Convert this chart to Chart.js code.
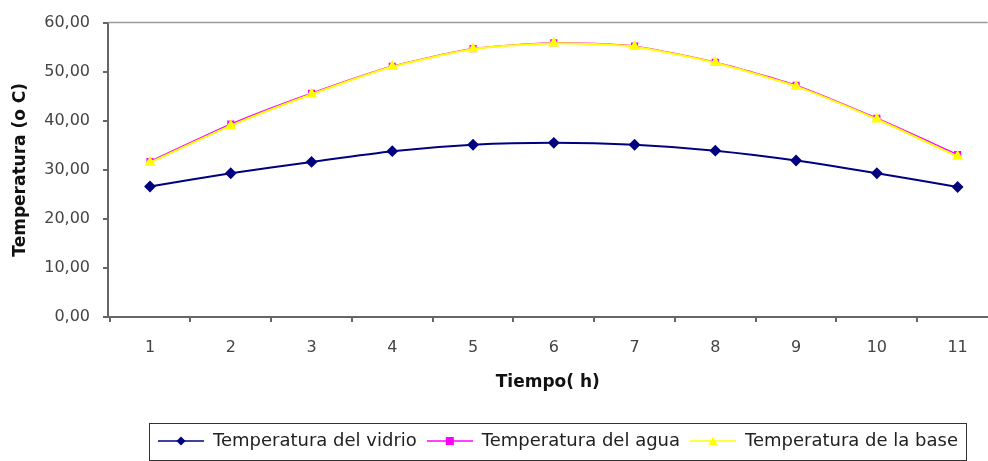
<!DOCTYPE html>
<html>
<head>
<meta charset="utf-8">
<script src="https://cdn.jsdelivr.net/npm/chart.js@4/dist/chart.umd.min.js"></script>
<style>
  body { margin: 0; background: #fff; overflow: hidden; }
  #wrap { width: 994px; height: 461px; position: relative; }
</style>
</head>
<body>
<div id="wrap"><canvas id="myChart"></canvas></div>
<script>
// datos
var horas = [1, 2, 3, 4, 5, 6, 7, 8, 9, 10, 11];
var tempVidrio = [26.6, 29.3, 31.6, 33.8, 35.1, 35.5, 35.1, 33.9, 31.9, 29.3, 26.5];
var tempAgua = [31.7, 39.3, 45.6, 51.1, 54.7, 55.9, 55.2, 51.9, 47.2, 40.5, 33.1];
var tempBase = [31.5, 39.0, 45.4, 51.0, 54.6, 55.8, 55.1, 51.8, 47.0, 40.3, 32.7];
var nombres = ['Temperatura del vidrio', 'Temperatura del agua', 'Temperatura de la base'];
var colores = ['#000080', '#ff00ff', '#ffff00'];

function puntos(serie) {
    return horas.map(function (h, i) { return { x: h, y: serie[i] }; });
}

// simbolo de leyenda: linea con marcador
function simbolo(color, tipo) {
    var c = document.createElement('canvas');
    c.width = 46; c.height = 14;
    var g = c.getContext('2d');
    g.strokeStyle = color; g.lineWidth = 1.5;
    g.beginPath(); g.moveTo(0, 7); g.lineTo(46, 7); g.stroke();
    g.fillStyle = color;
    g.beginPath();
    if (tipo === 'rombo') {
        g.moveTo(23, 2.5); g.lineTo(27.5, 7); g.lineTo(23, 11.5); g.lineTo(18.5, 7);
    } else if (tipo === 'cuadro') {
        g.rect(19, 3, 8, 8);
    } else {
        g.moveTo(23, 2.5); g.lineTo(27.5, 11); g.lineTo(18.5, 11);
    }
    g.closePath(); g.fill();
    return c;
}
var simbolos = [simbolo(colores[0], 'rombo'), simbolo(colores[1], 'cuadro'), simbolo(colores[2], 'triangulo')];

var marco = {
    id: 'marco',
    afterLayout: function (chart) {
        // la leyenda del original esta corrida a la derecha
        chart.legend.left += 61;
        chart.legend.right += 61;
    },
    afterDraw: function (chart) {
        var ctx = chart.ctx, a = chart.chartArea;
        ctx.save();
        ctx.strokeStyle = '#9a9a9a';
        ctx.lineWidth = 1.5;
        ctx.beginPath(); ctx.moveTo(a.left, a.top); ctx.lineTo(a.right, a.top); ctx.stroke();
        var hb = chart.legend.legendHitBoxes;
        if (hb && hb.length) {
            var l = Math.min.apply(null, hb.map(function (b) { return b.left; }));
            var r = Math.max.apply(null, hb.map(function (b) { return b.left + b.width; }));
            ctx.strokeStyle = '#333';
            ctx.lineWidth = 1;
            ctx.strokeRect(Math.round(l - 9) + 0.5, Math.round(hb[0].top - 9.5) + 0.5, Math.round(r - l + 17), Math.round(hb[0].height + 19));
        }
        ctx.restore();
    }
};

var ctx = document.getElementById('myChart').getContext('2d');
var myChart = new Chart(ctx, {
    type: 'line',
    data: {
        datasets: [
            {
                label: nombres[0],
                data: puntos(tempVidrio),
                borderColor: colores[0],
                backgroundColor: colores[0],
                borderWidth: 2,
                pointStyle: 'rectRot',
                pointRadius: 4.5,
                tension: 0.2,
                order: 1
            },
            {
                label: nombres[1],
                data: puntos(tempAgua),
                borderColor: colores[1],
                backgroundColor: colores[1],
                borderWidth: 1.5,
                pointStyle: 'rect',
                pointRadius: 4,
                tension: 0.2,
                order: 2
            },
            {
                label: nombres[2],
                data: puntos(tempBase),
                borderColor: colores[2],
                backgroundColor: colores[2],
                borderWidth: 2,
                pointStyle: 'triangle',
                pointRadius: 4.5,
                tension: 0.2,
                order: 0 // amarillo encima
            }
        ]
    },
    options: {
        responsive: true,
        maintainAspectRatio: false,
        animation: false,
        layout: {
            padding: { top: 17, left: 0, right: 0, bottom: 1 }
        },
        scales: {
            x: {
                type: 'linear',
                min: 0.48,
                max: 11.37,
                afterBuildTicks: function (scale) {
                    var t = [];
                    horas.forEach(function (h) { t.push({ value: h - 0.5 }); t.push({ value: h }); });
                    scale.ticks = t;
                },
                afterFit: function (scale) {
                    scale.height = 105;
                    scale.paddingLeft = 0;
                    scale.paddingRight = 0;
                },
                border: { color: '#666', width: 2 },
                grid: {
                    drawOnChartArea: false,
                    tickLength: 5,
                    lineWidth: 2,
                    color: function (c) {
                        return c.tick && Number.isInteger(c.tick.value) ? 'rgba(0,0,0,0)' : '#666';
                    }
                },
                ticks: {
                    autoSkip: false,
                    maxRotation: 0,
                    padding: 16,
                    color: '#444',
                    font: { family: 'DejaVu Sans', size: 16 },
                    callback: function (v) { return Number.isInteger(v) ? String(v) : ''; }
                },
                title: {
                    display: true,
                    text: 'Tiempo( h)',
                    color: '#111',
                    font: { family: 'DejaVu Sans', size: 17, weight: 'bold' },
                    padding: { top: 0, bottom: 29 }
                }
            },
            y: {
                min: 0,
                max: 60,
                afterFit: function (scale) { scale.width = 108; },
                border: { color: '#666', width: 2 },
                grid: {
                    drawOnChartArea: false,
                    tickLength: 5,
                    lineWidth: 2,
                    color: '#666'
                },
                ticks: {
                    stepSize: 10,
                    padding: 13,
                    color: '#444',
                    font: { family: 'DejaVu Sans', size: 16 },
                    callback: function (v) { return v.toFixed(2).replace('.', ','); }
                },
                title: {
                    display: true,
                    text: 'Temperatura (o C)',
                    color: '#111',
                    font: { family: 'DejaVu Sans', size: 17, weight: 'bold' },
                    padding: { top: 10, bottom: 0 }
                }
            }
        },
        plugins: {
            legend: {
                position: 'bottom',
                labels: {
                    usePointStyle: true,
                    pointStyleWidth: 46,
                    boxHeight: 14,
                    padding: 10,
                    color: '#222',
                    font: { family: 'DejaVu Sans', size: 18 },
                    generateLabels: function (chart) {
                        var items = Chart.defaults.plugins.legend.labels.generateLabels(chart);
                        items.forEach(function (it) { it.pointStyle = simbolos[it.datasetIndex]; });
                        return items.sort(function (a, b) { return a.datasetIndex - b.datasetIndex; });
                    }
                }
            },
            tooltip: { enabled: false }
        }
    },
    plugins: [marco]
});
</script>
</body>
</html>
